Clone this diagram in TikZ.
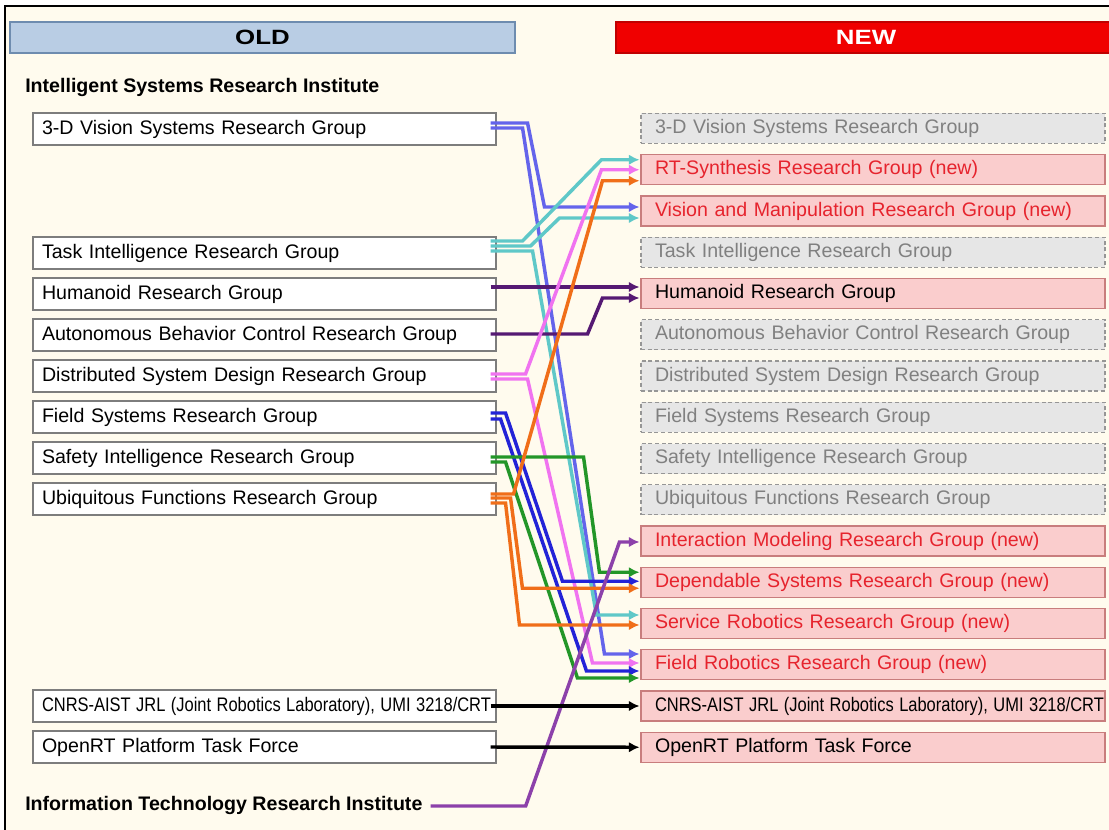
\documentclass[tikz,border=0pt]{standalone}
\usepackage{fontspec}
\setmainfont{Liberation Sans}
\usepackage{graphicx}
\usetikzlibrary{calc,arrows.meta}
\tikzset{>={Latex[length=8pt,width=8pt]}}
\definecolor{paper}{RGB}{255,251,238}
\definecolor{oldfill}{RGB}{185,205,228}
\definecolor{oldline}{RGB}{110,140,175}
\definecolor{newred}{RGB}{240,0,0}
\definecolor{boxline}{RGB}{125,125,125}
\definecolor{newfill}{RGB}{250,205,205}
\definecolor{newline}{RGB}{200,125,125}
\definecolor{newtext}{RGB}{230,35,45}
\definecolor{gonefill}{RGB}{230,230,230}
\definecolor{goneline}{RGB}{150,150,150}
\definecolor{gonetext}{RGB}{128,128,128}
\definecolor{lnslate}{RGB}{100,100,235}
\definecolor{lnteal}{RGB}{95,200,200}
\definecolor{lnplum}{RGB}{85,25,115}
\definecolor{lnpink}{RGB}{240,115,240}
\definecolor{lnblue}{RGB}{35,35,215}
\definecolor{lngreen}{RGB}{35,150,40}
\definecolor{lnorange}{RGB}{240,110,25}
\definecolor{lnviolet}{RGB}{140,65,170}
\newcommand\narrow[1]{\scalebox{0.84}[1]{#1}}
% colour, old group, dy, bend x, new group, dy, bend x
\newcommand\grouplink[7]{
    \draw[->,link,#1] ($(#2.east)+(-6,#3)$) -- ($(#2.east)+(#4,#3)$) --
        ($(#5.west)+(#7,#6)$) -- ($(#5.west)+(-1,#6)$);
}

\begin{document}
\begin{tikzpicture}[x=0.75pt,y=-0.75pt,font=\fontsize{14.7}{17}\selectfont,
    oldbox/.style={draw=boxline,fill=white,line width=0.8pt,minimum height=24pt,
        text width=333.75pt,inner xsep=6.75pt,inner ysep=0pt,align=left},
    newbox/.style={draw=newline,fill=newfill,line width=0.8pt,minimum height=22.5pt,
        text width=327pt,inner xsep=10.5pt,inner ysep=0pt,align=left,text=newtext},
    keepbox/.style={newbox,text=black},
    gonebox/.style={newbox,draw=goneline,fill=gonefill,densely dashed,text=gonetext},
    header/.style={minimum height=23.25pt,inner sep=0pt,line width=0.8pt,
        font=\fontsize{15.5}{18}\selectfont\bfseries},
    institute/.style={anchor=west,inner sep=0pt,font=\fontsize{14.7}{17}\selectfont\bfseries},
    link/.style={line width=2.6pt}]
\useasboundingbox (0,0) rectangle (1109,830);
\fill[white] (0,0) rectangle (1109,830);
\fill[paper] (5,6) rectangle (1115,836);
\draw[line width=1.5pt] (5,836) -- (5,6) -- (1115,6);

% headers
\node[header,draw=oldline,fill=oldfill,minimum width=378.75pt] (old) at (262.5,37.5) {\scalebox{1.25}[1]{OLD}};
\node[header,draw=newred!80!black,fill=newred,text=white,minimum width=375pt] (new) at (866,37.5) {\scalebox{1.25}[1]{NEW}};

% old groups
\node[institute] (isri) at (25,87) {Intelligent Systems Research Institute};
\node[oldbox] (o3d)    at (264.5,129) {3-D Vision Systems Research Group};
\node[oldbox] (otask)  at (264.5,253) {Task Intelligence Research Group};
\node[oldbox] (ohum)   at (264.5,294) {Humanoid Research Group};
\node[oldbox] (oauto)  at (264.5,335) {Autonomous Behavior Control Research Group};
\node[oldbox] (odist)  at (264.5,376) {Distributed System Design Research Group};
\node[oldbox] (ofield) at (264.5,417) {Field Systems Research Group};
\node[oldbox] (osafe)  at (264.5,458) {Safety Intelligence Research Group};
\node[oldbox] (oubi)   at (264.5,499) {Ubiquitous Functions Research Group};
\node[oldbox] (ocnrs)  at (264.5,706) {\narrow{CNRS-AIST JRL (Joint Robotics Laboratory), UMI 3218/CRT}};
\node[oldbox] (oort)   at (264.5,747) {OpenRT Platform Task Force};
\node[institute] (itri) at (25,805) {Information Technology Research Institute};

% new groups
\node[gonebox] (n3d)    at (873,128.5) {3-D Vision Systems Research Group};
\node[newbox]  (nrts)   at (873,169.75) {RT-Synthesis Research Group (new)};
\node[newbox]  (nvm)    at (873,211) {Vision and Manipulation Research Group (new)};
\node[gonebox] (ntask)  at (873,252.25) {Task Intelligence Research Group};
\node[keepbox] (nhum)   at (873,293.5) {Humanoid Research Group};
\node[gonebox] (nauto)  at (873,334.75) {Autonomous Behavior Control Research Group};
\node[gonebox] (ndist)  at (873,376) {Distributed System Design Research Group};
\node[gonebox] (nfield) at (873,417.25) {Field Systems Research Group};
\node[gonebox] (nsafe)  at (873,458.5) {Safety Intelligence Research Group};
\node[gonebox] (nubi)   at (873,499.75) {Ubiquitous Functions Research Group};
\node[newbox]  (nim)    at (873,541) {Interaction Modeling Research Group (new)};
\node[newbox]  (nds)    at (873,582.25) {Dependable Systems Research Group (new)};
\node[newbox]  (nsr)    at (873,623.5) {Service Robotics Research Group (new)};
\node[newbox]  (nfr)    at (873,664.75) {Field Robotics Research Group (new)};
\node[keepbox] (ncnrs)  at (873,706) {\narrow{CNRS-AIST JRL (Joint Robotics Laboratory), UMI 3218/CRT}};
\node[keepbox] (nort)   at (873,747.25) {OpenRT Platform Task Force};

% reorganisation links
\grouplink{lnslate}{o3d}{-6}{31}{nvm}{-4}{-96}
\grouplink{lnslate}{o3d}{-1}{26}{nfr}{-10.75}{-36}
\grouplink{lnteal}{otask}{-12}{26}{nrts}{-10}{-39}
\grouplink{lnteal}{otask}{-7}{34}{nvm}{7}{-81}
\grouplink{lnteal}{otask}{-2}{36}{nsr}{-8.5}{-44}
\draw[->,link,lnplum] ($(ohum.east)+(-6,-7)$) -- ($(nhum.west)+(-1,-6.5)$);
\grouplink{lnplum}{oauto}{-1}{91}{nhum}{4.5}{-38}
\grouplink{lnpink}{odist}{-2}{29}{nrts}{0}{-39}
\grouplink{lnpink}{odist}{3}{31}{nfr}{-1.75}{-48}
\grouplink{lnblue}{ofield}{-4}{9}{nds}{-1}{-78}
\grouplink{lnblue}{ofield}{2}{4}{nfr}{6.25}{-54}
\grouplink{lngreen}{osafe}{-1}{87}{nds}{-10}{-41}
\grouplink{lngreen}{osafe}{4}{9}{nfr}{13.25}{-63}
\grouplink{lnorange}{oubi}{-5}{17}{nrts}{11}{-38}
\grouplink{lnorange}{oubi}{-1}{14}{nds}{6}{-118}
\grouplink{lnorange}{oubi}{4}{9}{nsr}{1.5}{-121}
\draw[->,link,lnviolet] ($(itri.east)+(8,1)$) -- ($(itri.east)+(103,1)$) --
    ($(nim.west)+(-21,1)$) -- ($(nim.west)+(-1,1)$);
\draw[->,link,black] ($(ocnrs.east)+(-6,0)$) -- ($(ncnrs.west)+(-1,0)$);
\draw[->,link,black] ($(oort.east)+(-6,0)$) -- ($(nort.west)+(-1,0)$);
\end{tikzpicture}
\end{document}
